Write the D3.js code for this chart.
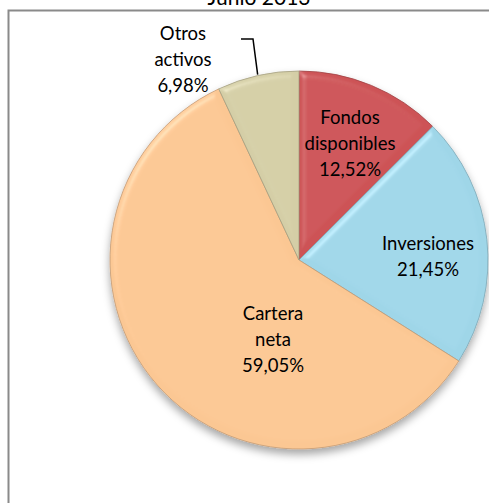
<!DOCTYPE html>
<html>
<head>
<meta charset="utf-8">
<script src="https://cdn.jsdelivr.net/npm/d3@7"></script>
<style>
  body { margin: 0; background: #fff; }
  svg { display: block; font-family: Lato, "Open Sans", sans-serif; }
</style>
</head>
<body>
<svg id="chart"></svg>
<script>
// ---------------- data ----------------
const title = "Junio 2013";
const categories = ["Fondos disponibles", "Inversiones", "Cartera neta", "Otros activos"];
const values = [12.52, 21.45, 59.05, 6.98];
const labelLines = [["Fondos", "disponibles"], ["Inversiones"], ["Cartera", "neta"], ["Otros", "activos"]];
const colors = ["#cd5356", "#9fd6e8", "#fbc793", "#d4cea6"];

// ---------------- layout ----------------
const width = 489, height = 503;
const cx = 299, cy = 260, radius = 189;

const svg = d3.select("#chart")
  .attr("width", width)
  .attr("height", height);

const defs = svg.append("defs");

// soft shadow under the pie
const shadow = defs.append("filter").attr("id", "shadow")
  .attr("x", "-20%").attr("y", "-20%").attr("width", "140%").attr("height", "140%");
shadow.append("feDropShadow")
  .attr("dx", 0).attr("dy", 5).attr("stdDeviation", 4)
  .attr("flood-color", "#000").attr("flood-opacity", 0.35);

// bevel look on each slice (light from the top-left, only near the edges)
const bevel = defs.append("filter").attr("id", "bevel")
  .attr("x", "-5%").attr("y", "-5%").attr("width", "110%").attr("height", "110%");
bevel.append("feGaussianBlur").attr("in", "SourceAlpha").attr("stdDeviation", 3.5).attr("result", "blur");
const spec = bevel.append("feSpecularLighting")
  .attr("in", "blur").attr("surfaceScale", 5).attr("specularConstant", 0.5)
  .attr("specularExponent", 22).attr("lighting-color", "#ffffff").attr("result", "spec");
spec.append("feDistantLight").attr("azimuth", 225).attr("elevation", 35);
bevel.append("feComposite").attr("in", "spec").attr("in2", "SourceAlpha").attr("operator", "in").attr("result", "specOut");
bevel.append("feComposite").attr("in", "SourceGraphic").attr("in2", "specOut")
  .attr("operator", "arithmetic").attr("k1", 0).attr("k2", 1).attr("k3", 0.35).attr("k4", 0);

// chart frame (runs past the right and bottom edges)
svg.append("rect")
  .attr("x", 8.5).attr("y", 10.5)
  .attr("width", 520).attr("height", 520)
  .attr("fill", "none")
  .attr("stroke", "#8a8a8a")
  .attr("stroke-width", 2);

// title (mostly cut off above the frame, as in the original)
svg.append("text")
  .attr("x", 259).attr("y", 5)
  .attr("text-anchor", "middle")
  .attr("font-size", 21)
  .attr("fill", "#000")
  .text(title);

// ---------------- pie ----------------
const pie = d3.pie().sort(null).value(d => d)(values);
const arc = d3.arc().innerRadius(0).outerRadius(radius);

const g = svg.append("g")
  .attr("transform", `translate(${cx},${cy})`)
  .attr("filter", "url(#shadow)");

g.selectAll("path")
  .data(pie)
  .join("path")
  .attr("d", arc)
  .attr("fill", (d, i) => colors[i])
  .attr("stroke", (d, i) => d3.color(colors[i]).darker(0.7))
  .attr("stroke-width", 0.8)
  .attr("filter", "url(#bevel)");

// ---------------- labels ----------------
const fmt = v => v.toFixed(2).replace(".", ",") + "%";
const lineH = 26;
// label centres (first line)
const labelPos = [[350, 117], [428, 243], [273, 313], [183, 33]];

const labels = svg.append("g")
  .attr("font-size", 18.5)
  .attr("fill", "#000")
  .attr("text-anchor", "middle")
  .attr("dominant-baseline", "central");

labelLines.forEach((lines, i) => {
  const allLines = lines.concat([fmt(values[i])]);
  allLines.forEach((t, k) => {
    labels.append("text")
      .attr("x", labelPos[i][0])
      .attr("y", labelPos[i][1] + k * lineH)
      .text(t);
  });
});

// leader line for "Otros activos"
const otros = pie[3];
const mid = (otros.startAngle + otros.endAngle) / 2;
const edge = [cx + Math.sin(mid) * (radius + 1), cy - Math.cos(mid) * (radius + 1)];
svg.append("path")
  .attr("d", d3.line()([[241, 39], [253, 39], edge]))
  .attr("fill", "none")
  .attr("stroke", "#000")
  .attr("stroke-width", 1.5);
</script>
</body>
</html>
